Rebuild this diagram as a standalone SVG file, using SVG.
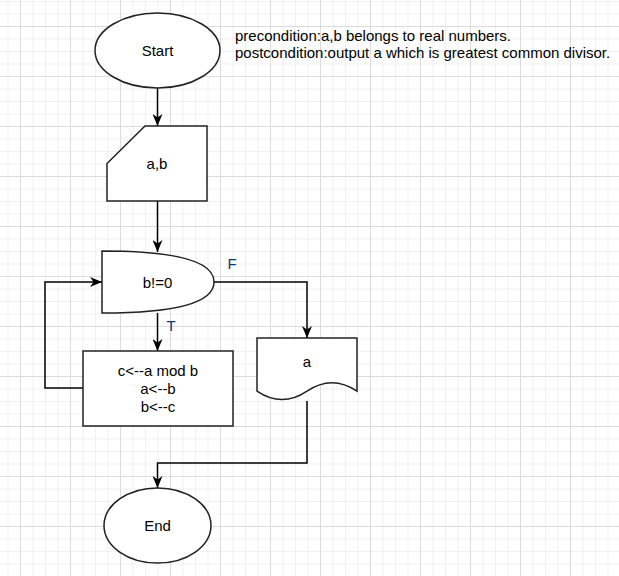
<svg xmlns="http://www.w3.org/2000/svg" width="619" height="576" viewBox="0 0 619 576">
<defs>
<pattern id="grid" x="20" y="26" width="50" height="50" patternUnits="userSpaceOnUse">
<rect width="50" height="50" fill="#ffffff"/>
<rect x="12.5" y="0" width="1" height="50" fill="#f1f1f1"/>
<rect x="25" y="0" width="1" height="50" fill="#f1f1f1"/>
<rect x="37.5" y="0" width="1" height="50" fill="#f1f1f1"/>
<rect x="0" y="12.5" width="50" height="1" fill="#f1f1f1"/>
<rect x="0" y="25" width="50" height="1" fill="#f1f1f1"/>
<rect x="0" y="37.5" width="50" height="1" fill="#f1f1f1"/>
<rect x="0" y="0" width="1" height="50" fill="#dcdcdc"/>
<rect x="0" y="0" width="50" height="1" fill="#dcdcdc"/>
</pattern>
<marker id="arrow" viewBox="0 0 12 10" refX="12" refY="5" markerWidth="12" markerHeight="10" markerUnits="userSpaceOnUse" orient="auto">
<path d="M0,0 L12,5 L0,10 L3.5,5 Z" fill="#000"/>
</marker>
</defs>
<style>
.shape{fill:#ffffff;stroke:#222;stroke-width:1.5}
.edge{fill:none;stroke:#000;stroke-width:1.5}
.lbl{font-family:"Liberation Sans",Arial,sans-serif;font-size:15px;fill:#000;text-anchor:middle}
.note{font-family:"Liberation Sans",Arial,sans-serif;font-size:15px;fill:#000}
.edgelbl{font-family:"Liberation Sans",Arial,sans-serif;font-size:15px;fill:#0d3a78;text-anchor:middle}
</style>
<rect width="619" height="576" fill="url(#grid)"/>
<g id="connectors">
<path class="edge" d="M157.5,88 V126" marker-end="url(#arrow)"/>
<path class="edge" d="M157.5,201 V252" marker-end="url(#arrow)"/>
<path class="edge" d="M214,282 H307 V338" marker-end="url(#arrow)"/>
<path class="edge" d="M157.5,313 V351" marker-end="url(#arrow)"/>
<path class="edge" d="M83,388 H45 V282 H102" marker-end="url(#arrow)"/>
<path class="edge" d="M307,401 V463 H157.5 V488" marker-end="url(#arrow)"/>
<text class="edgelbl" x="232" y="269">F</text>
<text class="edgelbl" x="171" y="331">T</text>
</g>
<g id="start">
<ellipse class="shape" cx="157.5" cy="50.5" rx="62.5" ry="37.5" stroke="#000"/>
<text class="lbl" x="157.5" y="56">Start</text>
</g>
<g id="note">
<text class="note" x="235" y="41">precondition:a,b belongs to real numbers.</text>
<text class="note" x="235" y="58">postcondition:output a which is greatest common divisor.</text>
</g>
<g id="input">
<path class="shape" d="M145,126 H207 V201 H107 V163.5 Z"/>
<text class="lbl" x="157" y="169">a,b</text>
</g>
<g id="decision">
<path class="shape" d="M102,251 Q214,251 214,282 Q214,313 102,313 Z"/>
<text class="lbl" x="157.5" y="288">b!=0</text>
</g>
<g id="process">
<rect class="shape" x="83" y="351" width="150" height="75"/>
<text class="lbl" x="158" y="376">c&lt;--a mod b</text>
<text class="lbl" x="158" y="393.5">a&lt;--b</text>
<text class="lbl" x="158" y="411.5">b&lt;--c</text>
</g>
<g id="output">
<path class="shape" d="M257,338 H357 V391.1 Q332,374.3 307,391.1 Q282,408 257,391.1 Z"/>
<text class="lbl" x="307" y="366.5">a</text>
</g>
<g id="end">
<ellipse class="shape" cx="157.5" cy="525.5" rx="53.5" ry="37.5" stroke="#000"/>
<text class="lbl" x="157.5" y="531">End</text>
</g>
</svg>
